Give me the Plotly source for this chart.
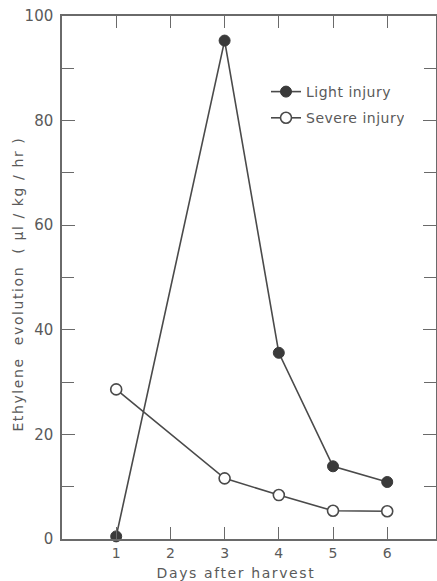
import plotly.graph_objects as go

days = [1, 3, 4, 5, 6]
light_injury = [0.5, 95.3, 35.6, 13.9, 10.9]
severe_injury = [28.6, 11.6, 8.4, 5.4, 5.3]
x_ticks = [1, 2, 3, 4, 5, 6]
x_tick_labels = ["1", "2", "3", "4", "5", "6"]
y_ticks = [0, 20, 40, 60, 80, 100]

ink = "#4a4a4a"
txt = "#5a5a5a"
axc = "#6a6a6a"
font_family = "DejaVu Sans"

L, T, R, B = 62, 16, 436, 539  # plot area in page pixels
W, H = 437, 581

def px_to_paper(px, py):
    return (px - L) / (R - L), (B - py) / (B - T)

fig = go.Figure()
fig.add_trace(go.Scatter(
    x=days, y=light_injury, mode="lines+markers", name="Light injury",
    legendgroup="a",
    line=dict(color=ink, width=1.6),
    marker=dict(symbol="circle", size=11, color="#3a3a3a", line=dict(color="#3a3a3a", width=1)),
    cliponaxis=False,
))
fig.add_trace(go.Scatter(
    x=days, y=severe_injury, mode="lines+markers", name="Severe injury",
    legendgroup="b",
    line=dict(color=ink, width=1.6),
    marker=dict(symbol="circle", size=11, color="white", line=dict(color=ink, width=1.6)),
    cliponaxis=False,
))

lx, ly = px_to_paper(266, 76)
xt_x, xt_y = px_to_paper(236, 573)
yt_x, yt_y = px_to_paper(18, 284)

fig.update_layout(
    width=W, height=H,
    margin=dict(l=L, r=W - R, t=T, b=H - B),
    paper_bgcolor="white", plot_bgcolor="white",
    font=dict(family=font_family, color=txt, size=14),
    showlegend=True,
    legend=dict(
        x=lx, y=ly, xanchor="left", yanchor="top",
        bgcolor="rgba(0,0,0,0)", font=dict(size=14, color=txt),
        itemwidth=30, tracegroupgap=5,
    ),
    annotations=[
        dict(text="Days after harvest", x=xt_x, y=xt_y, xref="paper", yref="paper",
             xanchor="center", yanchor="middle", showarrow=False,
             font=dict(size=14, color=txt)),
        dict(text="Ethylene  evolution  ( µl / kg / hr )", x=yt_x, y=yt_y,
             xref="paper", yref="paper", xanchor="center", yanchor="middle",
             textangle=-90, showarrow=False, font=dict(size=14, color=txt)),
    ],
)

fig.update_xaxes(
    range=[0, 6.9], tickvals=x_ticks, ticktext=x_tick_labels, automargin=False,
    showgrid=False, zeroline=False, showline=True, linecolor=axc, linewidth=1.5,
    mirror="ticks", ticks="inside", ticklen=12, tickwidth=1.3, tickcolor=axc,
    tickfont=dict(size=14, color=txt),
)
fig.update_yaxes(
    range=[0, 100], tickvals=y_ticks, automargin=False,
    showgrid=False, zeroline=False, showline=True, linecolor=axc, linewidth=1.5,
    mirror="ticks", ticks="inside", ticklen=13, tickwidth=1.3, tickcolor=axc,
    minor=dict(dtick=10, ticks="inside", ticklen=12, tickwidth=1.3, tickcolor=axc, showgrid=False),
    tickfont=dict(size=15, color=txt), ticklabelstandoff=4,
)

post = (
    "document.body.style.margin='0';document.body.style.overflow='hidden';"
    "document.querySelectorAll('.annotation-text').forEach(function(t){t.style.letterSpacing='1.6px';});"
    "document.querySelectorAll('.legendtext').forEach(function(t){t.style.letterSpacing='0.5px';});"
)
fig.write_html("out.html", config={"displayModeBar": False}, post_script=post)
